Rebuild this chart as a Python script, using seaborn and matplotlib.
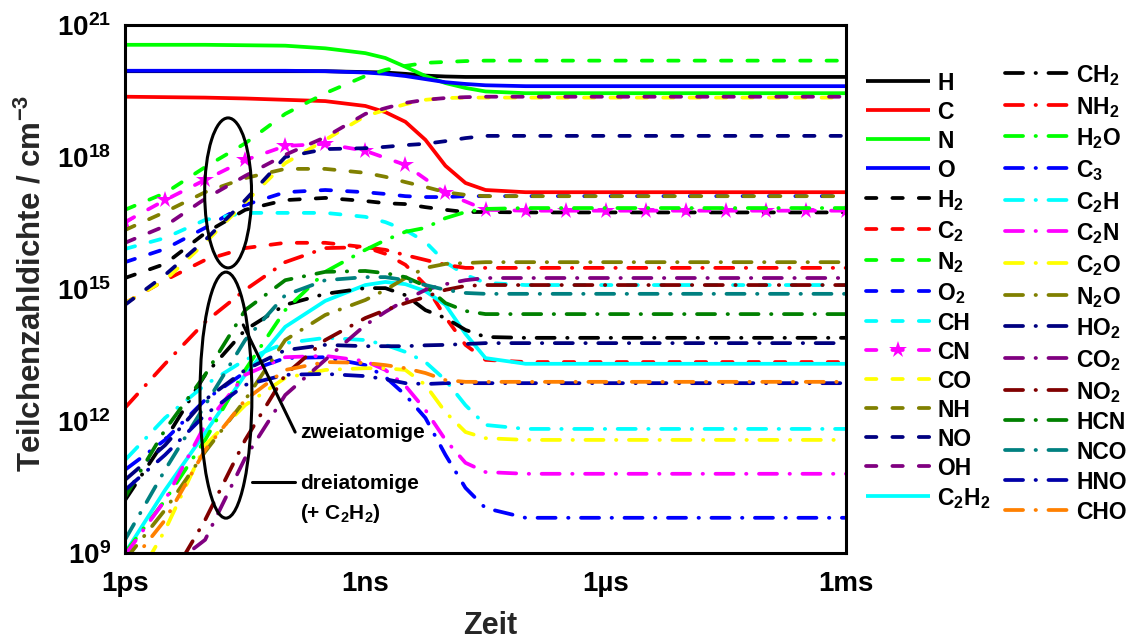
import numpy as np
import pandas as pd
import matplotlib
matplotlib.use("Agg")
import matplotlib.pyplot as plt
import matplotlib.ticker as mticker
from matplotlib.patches import Ellipse
import seaborn as sns

# ---------------------------------------------------------------------------
# Data: log10 of time (s) and log10 of particle density (cm^-3)
# ---------------------------------------------------------------------------
LOG_T = [-12, -11.5, -11, -10.5, -10, -9.5, -9, -8.75, -8.5, -8.25, -8,
         -7.75, -7.5, -7, -3]
LOG_T_CN = [-12, -11.5, -11, -10.5, -10, -9.5, -9, -8.5, -8, -7.5, -7,
            -6.5, -6, -5.5, -5, -4.5, -4, -3.5, -3]

# atoms
H = [19.95, 19.95, 19.95, 19.95, 19.95, 19.95, 19.93, 19.92, 19.89, 19.85, 19.83, 19.82, 19.82, 19.82, 19.82]
C = [19.37, 19.36, 19.35, 19.33, 19.30, 19.27, 19.16, 19.02, 18.80, 18.39, 17.80, 17.41, 17.25, 17.20, 17.20]
N = [20.55, 20.55, 20.55, 20.54, 20.53, 20.47, 20.36, 20.25, 20.05, 19.84, 19.68, 19.57, 19.49, 19.45, 19.45]
O = [19.96, 19.96, 19.96, 19.96, 19.96, 19.95, 19.92, 19.89, 19.84, 19.77, 19.70, 19.66, 19.63, 19.61, 19.61]
# diatomic
H2 = [15.25, 15.57, 16.27, 16.80, 17.02, 17.07, 17.00, 16.95, 16.93, 16.86, 16.80, 16.75, 16.75, 16.74, 16.74]
C2 = [14.68, 15.20, 15.66, 15.93, 16.05, 16.05, 15.95, 15.80, 15.55, 15.09, 14.36, 13.73, 13.39, 13.34, 13.34]
N2 = [16.80, 17.18, 17.77, 18.31, 18.98, 19.45, 19.84, 19.98, 20.07, 20.14, 20.16, 20.18, 20.19, 20.19, 20.19]
O2 = [15.61, 15.91, 16.39, 16.91, 17.20, 17.25, 17.20, 17.16, 17.11, 17.09, 17.09, 17.11, 17.11, 17.11, 17.11]
CH = [15.91, 16.16, 16.57, 16.73, 16.73, 16.73, 16.64, 16.52, 16.34, 16.07, 15.61, 15.32, 15.14, 15.09, 15.09]
CN = [16.52, 17.02, 17.48, 17.93, 18.25, 18.30, 18.14, 17.82, 17.18, 16.80, 16.78,
      16.78, 16.78, 16.78, 16.78, 16.78, 16.78, 16.78, 16.78]
CO = [14.68, 15.20, 16.05, 16.97, 17.86, 18.39, 18.93, 19.07, 19.20, 19.30, 19.34, 19.35, 19.35, 19.35, 19.35]
NH = [16.34, 16.75, 17.20, 17.52, 17.73, 17.73, 17.64, 17.55, 17.43, 17.32, 17.20, 17.14, 17.11, 17.11, 17.11]
NO = [14.64, 15.32, 16.11, 17.02, 18.00, 18.18, 18.20, 18.23, 18.27, 18.30, 18.36, 18.43, 18.48, 18.48, 18.48]
OH = [16.05, 16.43, 17.05, 17.57, 18.05, 18.45, 18.98, 19.11, 19.23, 19.30, 19.34, 19.36, 19.37, 19.37, 19.37]
C2H2 = [9.00, 10.43, 11.73, 13.05, 14.14, 14.73, 15.09, 15.16, 15.11, 14.95, 14.64, 13.98, 13.43, 13.30, 13.30]
# triatomic and others
CH2 = [10.20, 11.57, 13.05, 14.07, 14.64, 14.89, 15.02, 15.02, 14.86, 14.52, 14.34, 14.07, 13.91, 13.89, 13.89]
NH2 = [12.30, 13.30, 14.25, 14.98, 15.61, 15.93, 15.95, 15.89, 15.77, 15.66, 15.55, 15.48, 15.48, 15.48, 15.48]
H2O = [9.00, 10.20, 11.57, 13.16, 14.52, 15.39, 15.89, 16.11, 16.30, 16.39, 16.61, 16.75, 16.82, 16.84, 16.84]
C3 = [10.89, 11.57, 12.48, 13.11, 13.43, 13.45, 13.27, 13.00, 12.59, 12.07, 11.23, 10.48, 10.02, 9.80, 9.80]
C2H = [11.11, 12.07, 12.82, 13.39, 13.77, 13.89, 13.84, 13.73, 13.57, 13.34, 12.93, 12.36, 11.91, 11.82, 11.82]
C2N = [8.95, 10.20, 11.91, 13.05, 13.45, 13.48, 13.36, 13.16, 12.80, 12.25, 11.57, 11.05, 10.84, 10.80, 10.80]
C2O = [7.93, 9.52, 11.45, 12.36, 12.98, 13.16, 13.20, 13.20, 13.16, 12.82, 12.20, 11.75, 11.61, 11.57, 11.57]
N2O = [8.84, 9.98, 11.30, 12.48, 13.84, 14.41, 14.75, 14.98, 15.25, 15.48, 15.57, 15.59, 15.61, 15.61, 15.61]
HO2 = [10.66, 11.45, 12.48, 13.16, 13.61, 13.73, 13.70, 13.70, 13.70, 13.72, 13.73, 13.75, 13.77, 13.77, 13.77]
CO2 = [7.90, 8.60, 9.30, 11.16, 12.59, 13.39, 14.18, 14.48, 14.75, 14.98, 15.11, 15.20, 15.25, 15.25, 15.25]
NO2 = [7.50, 8.20, 9.75, 11.57, 13.05, 13.84, 14.34, 14.52, 14.68, 14.82, 14.98, 15.07, 15.09, 15.09, 15.09]
HCN = [10.27, 11.80, 13.05, 14.52, 15.20, 15.39, 15.41, 15.36, 15.27, 15.07, 14.68, 14.50, 14.43, 14.43, 14.43]
NCO = [9.30, 10.89, 12.36, 13.84, 14.86, 15.20, 15.27, 15.27, 15.20, 15.09, 14.98, 14.91, 14.89, 14.89, 14.89]
HNO = [10.43, 11.23, 12.14, 12.82, 13.05, 13.07, 13.02, 12.95, 12.86, 12.84, 12.86, 12.86, 12.86, 12.86, 12.86]
CHO = [8.61, 9.75, 11.34, 12.48, 13.16, 13.34, 13.32, 13.27, 13.20, 13.09, 12.93, 12.89, 12.89, 12.89, 12.89]

# legend columns: (label, values, colour, line style)
COLUMN_1 = [
    ("H", H, "#000000", "solid"), ("C", C, "#ff0000", "solid"),
    ("N", N, "#00ff00", "solid"), ("O", O, "#0000ff", "solid"),
    ("H$_2$", H2, "#000000", "dash"), ("C$_2$", C2, "#ff0000", "dash"),
    ("N$_2$", N2, "#00ff00", "dash"), ("O$_2$", O2, "#0000ff", "dash"),
    ("CH", CH, "#00ffff", "dash"), ("CN", CN, "#ff00ff", "dash"),
    ("CO", CO, "#ffff00", "dash"), ("NH", NH, "#808000", "dash"),
    ("NO", NO, "#000080", "dash"), ("OH", OH, "#800080", "dash"),
    ("C$_2$H$_2$", C2H2, "#00ffff", "solid"),
]
COLUMN_2 = [
    ("CH$_2$", CH2, "#000000", "dashdot"), ("NH$_2$", NH2, "#ff0000", "dashdot"),
    ("H$_2$O", H2O, "#00ff00", "dashdot"), ("C$_3$", C3, "#0000ff", "dashdot"),
    ("C$_2$H", C2H, "#00ffff", "dashdot"), ("C$_2$N", C2N, "#ff00ff", "dashdot"),
    ("C$_2$O", C2O, "#ffff00", "dashdot"), ("N$_2$O", N2O, "#808000", "dashdot"),
    ("HO$_2$", HO2, "#000080", "dashdot"), ("CO$_2$", CO2, "#800080", "dashdot"),
    ("NO$_2$", NO2, "#800000", "dashdot"), ("HCN", HCN, "#008000", "dashdot"),
    ("NCO", NCO, "#008080", "dashdot"), ("HNO", HNO, "#0000a8", "dashdot"),
    ("CHO", CHO, "#ff8000", "dashdot"),
]

TIME_TICK_LABELS = {-12: "1ps", -9: "1ns", -6: "1\u00b5s", -3: "1ms"}
DENSITY_TICK_EXPONENTS = [9, 12, 15, 18, 21]

# ---------------------------------------------------------------------------
sns.set_theme(style="white")
plt.rcParams.update({
    "font.family": ["Liberation Sans", "DejaVu Sans"],
    "font.weight": "bold",
    "axes.labelweight": "bold",
    "mathtext.fontset": "custom",
    "mathtext.rm": "Liberation Sans:bold",
    "mathtext.it": "Liberation Sans:bold",
    "mathtext.bf": "Liberation Sans:bold",
    "mathtext.default": "regular",
    "lines.scale_dashes": False,
    "axes.edgecolor": "black",
    "axes.linewidth": 2.2,
    "text.color": "black",
    "xtick.color": "black",
    "ytick.color": "black",
})

LW = 2.7
DASH = (7.5, 11.5)
DASHDOT = (13, 9, 0.3, 9)

fig = plt.figure(figsize=(11.28, 6.42), dpi=100)
ax = fig.add_axes([125 / 1128, 1 - 553 / 642, 721 / 1128, 528 / 642])

handles = {}
for label, vals, color, style in COLUMN_1 + COLUMN_2:
    times = LOG_T_CN if label == "CN" else LOG_T
    df = pd.DataFrame({"t": 10.0 ** np.asarray(times, float),
                       "n": 10.0 ** np.asarray(vals, float)})
    kw = {}
    if label == "CN":
        kw = dict(marker="*", markersize=13, markeredgewidth=0,
                  markerfacecolor=color)
    sns.lineplot(data=df, x="t", y="n", ax=ax, color=color, linewidth=LW,
                 estimator=None, sort=False, **kw)
    line = ax.lines[-1]
    if style == "dash":
        line.set_dashes(DASH)
        line.set_dash_capstyle("round")
    elif style == "dashdot":
        line.set_dashes(DASHDOT)
        line.set_dash_capstyle("round")
    else:
        line.set_solid_capstyle("butt")
    handles[label] = line

ax.set_xscale("log")
ax.set_yscale("log")
ax.set_xlim(1e-12, 1e-3)
ax.set_ylim(1e9, 1e21)

ax.xaxis.set_major_locator(mticker.FixedLocator([10.0 ** e for e in range(-12, -2)]))
ax.xaxis.set_minor_locator(mticker.LogLocator(base=10, subs=np.arange(2, 10), numticks=100))
ax.xaxis.set_major_formatter(mticker.FuncFormatter(
    lambda v, p: TIME_TICK_LABELS.get(int(round(np.log10(v))), "")))
ax.xaxis.set_minor_formatter(mticker.NullFormatter())

ax.yaxis.set_major_locator(mticker.FixedLocator([10.0 ** e for e in range(9, 22)]))
ax.yaxis.set_minor_locator(mticker.LogLocator(base=10, subs=np.arange(2, 10), numticks=100))
ax.yaxis.set_major_formatter(mticker.FuncFormatter(
    lambda v, p: (r"$\mathbf{10^{%d}}$" % int(round(np.log10(v))))
    if int(round(np.log10(v))) in DENSITY_TICK_EXPONENTS else ""))
ax.yaxis.set_minor_formatter(mticker.NullFormatter())

ax.tick_params(which="major", direction="out", length=7, width=2.0,
               labelsize=20, pad=3)
ax.tick_params(which="minor", direction="out", length=3.5, width=1.5)
ax.tick_params(axis="x", which="major", pad=6)

ax.set_xlabel("Zeit", fontsize=22, fontweight="bold")
ax.set_ylabel("Teilchenzahldichte / cm$^{-3}$", fontsize=22.5, fontweight="bold")
ax.xaxis.set_label_coords(0.506, -0.11)
ax.yaxis.set_label_coords(-0.108, 0.51)

# group markers
ax.add_patch(Ellipse((0.143, 0.682), 0.065, 0.284, transform=ax.transAxes,
                     fill=False, edgecolor="black", linewidth=2.2, zorder=5))
ax.add_patch(Ellipse((0.140, 0.299), 0.072, 0.466, transform=ax.transAxes,
                     fill=False, edgecolor="black", linewidth=2.2, zorder=5))
ax.plot([0.164, 0.236], [0.432, 0.229], transform=ax.transAxes,
        color="black", linewidth=2.2, zorder=5)
ax.plot([0.176, 0.236], [0.134, 0.134], transform=ax.transAxes,
        color="black", linewidth=2.2, zorder=5)
ax.text(0.243, 0.229, "zweiatomige", transform=ax.transAxes, fontsize=15,
        fontweight="bold", va="center", ha="left", zorder=6)
ax.text(0.243, 0.131, "dreiatomige", transform=ax.transAxes, fontsize=15,
        fontweight="bold", va="center", ha="left", zorder=6)
ax.text(0.243, 0.075, "(+ C$_2$H$_2$)", transform=ax.transAxes, fontsize=15,
        fontweight="bold", va="center", ha="left", zorder=6)

# two legend columns beside the axes
legend_kw = dict(loc="upper left", frameon=False, fontsize=16.5, handlelength=2.8,
                 handletextpad=0.3, borderpad=0, borderaxespad=0,
                 handleheight=1.0)
fig.legend([handles[l] for l, *_ in COLUMN_1], [l for l, *_ in COLUMN_1],
           bbox_to_anchor=(866 / 1128, 1 - 72 / 642), labelspacing=0.26,
           **legend_kw)
fig.legend([handles[l] for l, *_ in COLUMN_2], [l for l, *_ in COLUMN_2],
           bbox_to_anchor=(1005 / 1128, 1 - 63 / 642), labelspacing=0.295,
           **legend_kw)

fig.savefig("out.png", dpi=100)
